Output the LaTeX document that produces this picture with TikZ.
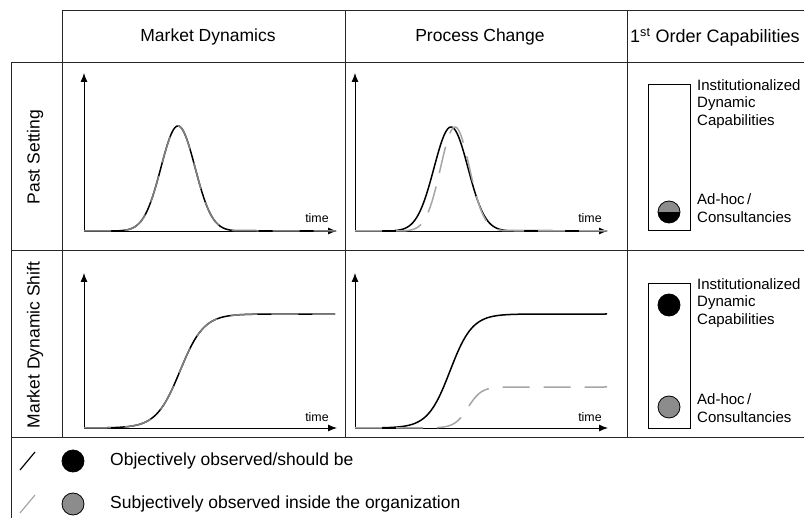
\documentclass[tikz,border=0pt]{standalone}
\usepackage{fontspec}
\setmainfont{Liberation Sans}
\usetikzlibrary{arrows.meta}
\definecolor{cgray}{RGB}{128,128,128}
\definecolor{clight}{RGB}{165,165,165}
\definecolor{cfill}{RGB}{140,140,140}
\begin{document}
\begin{tikzpicture}[x=1pt,y=-1pt,
  grid/.style={line width=1pt, black!85},
  axis/.style={line width=0.9pt, black, -{Latex[length=9pt,width=7pt]}},
  obj/.style={line width=1.5pt, black},
  subj/.style={line width=1.5pt, cgray, dash pattern=on 27pt off 14pt},
  subjl/.style={line width=1.5pt, clight, dash pattern=on 27pt off 14pt},
  head/.style={font=\fontsize{17.5}{20}\selectfont, inner sep=0pt},
  celltxt/.style={font=\fontsize{15}{17.5}\selectfont, align=left, anchor=west, inner sep=0pt},
  timetxt/.style={font=\fontsize{12.4}{14}\selectfont, inner sep=0pt},
  capbox/.style={draw, line width=0.9pt, minimum width=42pt, inner sep=0pt},
  dot/.style={circle, draw=black, line width=0.8pt, minimum size=22pt, inner sep=0pt}]
\useasboundingbox (0,0) rectangle (804,518);

% grid
\draw[grid] (62,11) -- (804,11);
\draw[grid] (11,63) -- (804,63);
\draw[grid] (11,251) -- (804,251);
\draw[grid] (11,438) -- (804,438);
\draw[grid] (11,63) -- (11,518);
\draw[grid] (62,11) -- (62,438);
\draw[grid] (345,11) -- (345,438);
\draw[grid] (627,11) -- (627,438);

% headers
\node[head] (h1) at (208,37) {Market Dynamics};
\node[head] (h2) at (480,37) {Process Change};
\node[head, anchor=west, font=\fontsize{18}{20}\selectfont] (h3) at (630,37) {1\textsuperscript{st} Order Capabilities};
\node[head, rotate=90] (r1) at (35,157) {Past Setting};
\node[head, rotate=90] (r2) at (35,345) {Market Dynamic Shift};

% chart row1 col1
\draw[axis] (84,231) -- (84,73);
\draw[axis] (84,231) -- (337,231);
\draw[obj] (84,231) -- (120,231) -- plot[domain=120:236, samples=120] (\x,{231-105*exp(-((\x-178)/17)^2/2)}) -- (335,231);
\draw[subj] (84,231) -- (120,231) -- plot[domain=120:236, samples=120] (\x,{231-105*exp(-((\x-178)/17)^2/2)}) -- (335,231);
\node[timetxt] (t1) at (317,218) {time};

% chart row1 col2
\draw[axis] (355,231) -- (355,73);
\draw[axis] (355,231) -- (608,231);
\draw[obj] (355,231) -- (395,231) -- plot[domain=395:507, samples=120] (\x,{231-104*exp(-((\x-451)/17)^2/2)}) -- (606,231);
\draw[subjl] (355,231) -- (405,231) -- plot[domain=405:505, samples=120] (\x,{231-104*exp(-((\x-455)/14.5)^2/2)}) -- (606,231);
\node[timetxt] (t2) at (590,218) {time};

% chart row2 col1
\draw[axis] (84,428) -- (84,273);
\draw[axis] (84,428) -- (337,428);
\draw[obj] (84,428) -- (100,428) -- plot[domain=100:260, samples=120] (\x,{428-57*(1+tanh(0.042*(\x-180)))}) -- (335,314);
\draw[subj] (84,428) -- (100,428) -- plot[domain=100:260, samples=120] (\x,{428-57*(1+tanh(0.042*(\x-180)))}) -- (335,314);
\node[timetxt] (t3) at (317,417) {time};

% chart row2 col2
\draw[axis] (355,428) -- (355,273);
\draw[axis] (355,428) -- (608,428);
\draw[obj] (355,428) -- (375,428) -- plot[domain=375:525, samples=120] (\x,{428-57*(1+tanh(0.045*(\x-450)))}) -- (607,314);
\draw[subjl] (355,428) -- (425,428) -- plot[domain=425:512, samples=90] (\x,{428-20.5*(1+tanh(0.075*(\x-468)))}) -- (607,387);
\node[timetxt] (t4) at (590,417) {time};

% capabilities row1
\node[capbox, minimum height=146pt] (b1) at (669,157) {};
\node[celltxt] (i1) at (697,104) {Institutionalized\\Dynamic\\Capabilities};
\node[celltxt] (a1) at (697,208) {Ad-hoc\,/\\Consultancies};
\node[circle, minimum size=22pt, inner sep=0pt] (c1) at (669,212) {};
\begin{scope}
  \clip (c1.center) circle[radius=11];
  \fill[cfill] (655,198) rectangle (683,212);
  \fill[black] (655,212) rectangle (683,226);
\end{scope}
\draw[line width=0.8pt] (c1.center) circle[radius=11];

% capabilities row2
\node[capbox, minimum height=145pt] (b2) at (669,355.5) {};
\node[celltxt] (i2) at (697,303) {Institutionalized\\Dynamic\\Capabilities};
\node[celltxt] (a2) at (697,408) {Ad-hoc\,/\\Consultancies};
\node[dot, fill=black] (c2) at (669,305) {};
\node[dot, fill=cfill] (c3) at (669,407) {};

% legend
\coordinate (la1) at (20,470);
\coordinate (lb1) at (35,452);
\coordinate (la2) at (20,513);
\coordinate (lb2) at (35,495);
\draw[line width=1.2pt, black] (la1) -- (lb1);
\draw[line width=1.2pt, clight] (la2) -- (lb2);
\node[dot, fill=black] (lc1) at (73,461) {};
\node[dot, fill=cfill] (lc2) at (73,504) {};
\node[head, anchor=west] (lt1) at (110,461) {Objectively observed/should be};
\node[head, anchor=west] (lt2) at (110,504) {Subjectively observed inside the organization};
\end{tikzpicture}
\end{document}
